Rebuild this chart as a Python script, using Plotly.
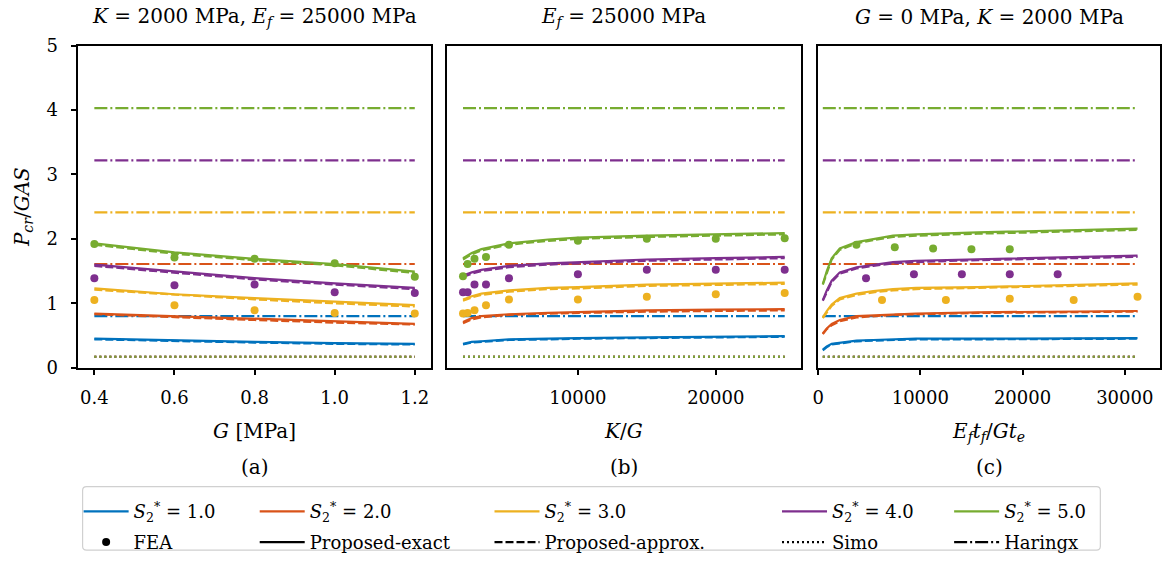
import plotly.graph_objects as go

W, H = 1167, 563

# ---------------- data ----------------
S_labels = ["1.0", "2.0", "3.0", "4.0", "5.0"]
colors = ["#0072BD", "#D95319", "#EDB120", "#7E2F8E", "#77AC30"]

simo = [0.17, 0.17, 0.17, 0.17, 0.17]
haringx = [0.80, 1.61, 2.41, 3.22, 4.03]

# panel (a): G [MPa]
G_a = [0.4, 0.6, 0.8, 1.0, 1.2]
exact_a = [
    [0.45, 0.42, 0.40, 0.38, 0.37],
    [0.84, 0.80, 0.75, 0.71, 0.68],
    [1.23, 1.14, 1.08, 1.02, 0.97],
    [1.60, 1.49, 1.39, 1.31, 1.24],
    [1.93, 1.79, 1.69, 1.61, 1.49],
]
approx_a = [
    [0.44, 0.41, 0.39, 0.37, 0.36],
    [0.83, 0.78, 0.74, 0.70, 0.67],
    [1.21, 1.13, 1.06, 1.00, 0.95],
    [1.58, 1.47, 1.37, 1.29, 1.22],
    [1.91, 1.77, 1.67, 1.59, 1.47],
]
fea_a = [
    None,
    None,
    [1.05, 0.97, 0.89, 0.85, 0.84],
    [1.39, 1.28, 1.29, 1.17, 1.16],
    [1.92, 1.71, 1.69, 1.62, 1.41],
]

# panel (b): K/G
KG_line = [1667, 2300, 3000, 4000, 5000, 7850, 10000, 15000, 20000, 25000]
exact_b = [
    [0.37, 0.40, 0.41, 0.43, 0.44, 0.45, 0.46, 0.47, 0.48, 0.49],
    [0.71, 0.77, 0.80, 0.82, 0.83, 0.85, 0.86, 0.89, 0.90, 0.91],
    [1.06, 1.11, 1.15, 1.18, 1.20, 1.24, 1.25, 1.29, 1.30, 1.32],
    [1.43, 1.48, 1.52, 1.55, 1.58, 1.62, 1.64, 1.68, 1.70, 1.72],
    [1.70, 1.78, 1.84, 1.89, 1.93, 1.99, 2.02, 2.05, 2.07, 2.09],
]
approx_b = [
    [0.36, 0.39, 0.40, 0.42, 0.43, 0.44, 0.45, 0.46, 0.47, 0.48],
    [0.69, 0.75, 0.78, 0.80, 0.82, 0.84, 0.85, 0.87, 0.88, 0.89],
    [1.04, 1.09, 1.13, 1.16, 1.18, 1.22, 1.23, 1.27, 1.28, 1.30],
    [1.41, 1.46, 1.50, 1.53, 1.56, 1.60, 1.62, 1.66, 1.68, 1.70],
    [1.68, 1.76, 1.82, 1.87, 1.91, 1.97, 2.00, 2.03, 2.05, 2.07],
]
KG_fea = [1667, 2000, 2500, 3333, 5000, 10000, 15000, 20000, 25000]
fea_b = [
    None,
    None,
    [0.84, 0.85, 0.89, 0.97, 1.06, 1.06, 1.10, 1.14, 1.16],
    [1.17, 1.17, 1.29, 1.29, 1.39, 1.45, 1.52, 1.52, 1.52],
    [1.42, 1.61, 1.69, 1.72, 1.91, 1.97, 2.00, 2.00, 2.01],
]

# panel (c): Ef tf / G te
EF_line = [460, 850, 1330, 2120, 3760, 5390, 7330, 9590, 15600, 31250]
exact_c = [
    [0.28, 0.33, 0.37, 0.39, 0.42, 0.43, 0.44, 0.45, 0.45, 0.46],
    [0.53, 0.61, 0.68, 0.74, 0.80, 0.81, 0.83, 0.84, 0.86, 0.88],
    [0.78, 0.88, 0.98, 1.08, 1.15, 1.19, 1.22, 1.24, 1.25, 1.31],
    [1.05, 1.20, 1.35, 1.48, 1.56, 1.60, 1.64, 1.66, 1.68, 1.74],
    [1.30, 1.50, 1.70, 1.85, 1.95, 2.00, 2.05, 2.07, 2.10, 2.16],
]
approx_c = [
    [0.27, 0.32, 0.36, 0.38, 0.41, 0.42, 0.43, 0.44, 0.44, 0.45],
    [0.52, 0.60, 0.66, 0.72, 0.78, 0.80, 0.82, 0.83, 0.85, 0.87],
    [0.77, 0.86, 0.96, 1.06, 1.13, 1.17, 1.20, 1.22, 1.24, 1.29],
    [1.04, 1.18, 1.33, 1.46, 1.54, 1.58, 1.62, 1.64, 1.67, 1.72],
    [1.29, 1.48, 1.68, 1.83, 1.93, 1.98, 2.03, 2.05, 2.08, 2.14],
]
EF_fea = [
    None,
    None,
    [6250, 12500, 18750, 25000, 31250],
    [4687.5, 9375, 14062.5, 18750, 23437.5],
    [3750, 7500, 11250, 15000, 18750],
]
fea_c = [
    None,
    None,
    [1.05, 1.05, 1.07, 1.05, 1.10],
    [1.39, 1.45, 1.45, 1.45, 1.45],
    [1.91, 1.87, 1.85, 1.84, 1.84],
]

# ---------------- figure ----------------
FONT = "DejaVu Serif"
FS = 18
FT = 20
fig = go.Figure()

LW = 2.2
DASH = "8px,3px"
DOT = "2px,3px"
DASHDOT = "13px,3px,2px,3px"


def add_panel(xa, ya, x_line, exact, approx, x_fea, fea, per_series_x):
    for i in range(5):
        c = colors[i]
        fig.add_trace(go.Scatter(x=x_line, y=exact[i], mode="lines",
                                 line=dict(color=c, width=LW), showlegend=False,
                                 xaxis=xa, yaxis=ya))
        fig.add_trace(go.Scatter(x=x_line, y=approx[i], mode="lines",
                                 line=dict(color=c, width=LW, dash=DASH), showlegend=False,
                                 xaxis=xa, yaxis=ya))
        if fea[i] is not None:
            xf = x_fea[i] if per_series_x else x_fea
            fig.add_trace(go.Scatter(x=xf, y=fea[i], mode="markers",
                                     marker=dict(color=c, size=8), showlegend=False,
                                     xaxis=xa, yaxis=ya))
        fig.add_trace(go.Scatter(x=[x_line[0], x_line[-1]], y=[simo[i], simo[i]], mode="lines",
                                 line=dict(color=c, width=LW, dash=DOT), showlegend=False,
                                 xaxis=xa, yaxis=ya))
        fig.add_trace(go.Scatter(x=[x_line[0], x_line[-1]], y=[haringx[i], haringx[i]], mode="lines",
                                 line=dict(color=c, width=LW, dash=DASHDOT), showlegend=False,
                                 xaxis=xa, yaxis=ya))


add_panel("x", "y", G_a, exact_a, approx_a, G_a, fea_a, False)
add_panel("x2", "y2", KG_line, exact_b, approx_b, KG_fea, fea_b, False)
add_panel("x3", "y3", EF_line, exact_c, approx_c, EF_fea, fea_c, True)

# ---------------- legends ----------------
ITEMW = 45
col_text_x = [128, 305, 541, 830, 1003]
row_y = [520, 552]
style_entries = [
    ("FEA", dict(mode="markers", marker=dict(color="black", size=8))),
    ("Proposed-exact", dict(mode="lines", line=dict(color="black", width=LW))),
    ("Proposed-approx.", dict(mode="lines", line=dict(color="black", width=LW, dash=DASH))),
    ("Simo", dict(mode="lines", line=dict(color="black", width=LW, dash=DOT))),
    ("Haringx", dict(mode="lines", line=dict(color="black", width=LW, dash=DASHDOT))),
]
legend_layout = {}
k = 0
for row in range(2):
    for col in range(5):
        k += 1
        key = "legend" if k == 1 else f"legend{k}"
        if row == 0:
            name = f"<i>S</i><sub>2</sub><sup>*</sup> = {S_labels[col]}"
            kw = dict(mode="lines", line=dict(color=colors[col], width=LW))
        else:
            name, kw = style_entries[col]
        fig.add_trace(go.Scatter(x=[None], y=[None], name=name, legend=key,
                                 showlegend=True, **kw))
        legend_layout[key] = dict(
            x=(col_text_x[col] - 10 - ITEMW) / W, y=1 - row_y[row] / H,
            xanchor="left", yanchor="middle", bgcolor="rgba(0,0,0,0)",
            borderwidth=0, itemwidth=ITEMW,
            font=dict(family=FONT, size=FS, color="black"),
        )
fig.update_layout(**legend_layout)

# legend frame
bx0, bx1, by0, by1, r = 77, 1100, 494, 560, 4
def px(x): return x / W
def py(y): return 1 - y / H
path = (f"M{px(bx0 + r)},{py(by0)} L{px(bx1 - r)},{py(by0)} Q{px(bx1)},{py(by0)} {px(bx1)},{py(by0 + r)} "
        f"L{px(bx1)},{py(by1 - r)} Q{px(bx1)},{py(by1)} {px(bx1 - r)},{py(by1)} "
        f"L{px(bx0 + r)},{py(by1)} Q{px(bx0)},{py(by1)} {px(bx0)},{py(by1 - r)} "
        f"L{px(bx0)},{py(by0 + r)} Q{px(bx0)},{py(by0)} {px(bx0 + r)},{py(by0)} Z")
fig.add_shape(type="path", path=path, xref="paper", yref="paper",
              line=dict(color="#d0d0d0", width=1.2), fillcolor="rgba(255,255,255,0.8)",
              layer="below")

# ---------------- axes ----------------
ydom = [1 - 370.5 / H, 1 - 36 / H]
xdoms = [[72.7 / W, 427 / W], [443.2 / W, 798.9 / W], [816.3 / W, 1160 / W]]
axis_common = dict(showline=True, linecolor="black", linewidth=1.5, mirror=True,
                   showgrid=False, zeroline=False, ticks="outside", ticklen=6,
                   tickwidth=1.5, tickcolor="black",
                   tickfont=dict(family=FONT, size=FS, color="black"))
title_font = dict(family=FONT, size=FT, color="black")

fig.update_layout(
    width=W, height=H, margin=dict(l=0, r=0, t=0, b=0),
    paper_bgcolor="white", plot_bgcolor="white",
    font=dict(family=FONT, size=FS, color="black"),
    xaxis=dict(domain=xdoms[0], range=[0.36, 1.24], tickvals=[0.4, 0.6, 0.8, 1.0, 1.2],
               tickformat=".1f", anchor="y", ticklabelstandoff=7,
               title=dict(text="<i>G</i> [MPa]", standoff=17, font=title_font), **axis_common),
    xaxis2=dict(domain=xdoms[1], range=[500, 26167], tickvals=[10000, 20000],
                tickformat="d", anchor="y2", ticklabelstandoff=7,
                title=dict(text="<i>K</i>/<i>G</i>", standoff=17, font=title_font), **axis_common),
    xaxis3=dict(domain=xdoms[2], range=[0, 33450], tickvals=[0, 10000, 20000, 30000],
                tickformat="d", anchor="y3", ticklabelstandoff=7,
                title=dict(text="<i>E<sub>f</sub>t<sub>f</sub></i>/<i>Gt<sub>e</sub></i>", standoff=17,
                           font=title_font),
                **axis_common),
    yaxis=dict(domain=ydom, range=[0, 5], tickvals=[0, 1, 2, 3, 4, 5], anchor="x",
               ticklabelstandoff=9,
               title=dict(text="<i>P<sub>cr</sub></i>/<i>GAS</i>", standoff=12, font=title_font),
               **axis_common),
    yaxis2=dict(domain=ydom, range=[0, 5], anchor="x2", showline=True, linecolor="black",
                linewidth=1.5, mirror=True, showgrid=False, zeroline=False,
                showticklabels=False, ticks=""),
    yaxis3=dict(domain=ydom, range=[0, 5], anchor="x3", showline=True, linecolor="black",
                linewidth=1.5, mirror=True, showgrid=False, zeroline=False,
                showticklabels=False, ticks=""),
)

# panel titles and labels
titles = ["<i>K</i> = 2000 MPa, <i>E<sub>f</sub></i> = 25000 MPa",
          "<i>E<sub>f</sub></i> = 25000 MPa",
          "<i>G</i> = 0 MPa, <i>K</i> = 2000 MPa"]
labels = ["(a)", "(b)", "(c)"]
for i in range(3):
    xc = (xdoms[i][0] + xdoms[i][1]) / 2
    fig.add_annotation(text=titles[i], x=xc, y=1 - 6 / H, xref="paper", yref="paper",
                       showarrow=False, xanchor="center", yanchor="middle",
                       font=title_font)
    fig.add_annotation(text=labels[i], x=xc, y=1 - 474 / H, xref="paper", yref="paper",
                       showarrow=False, xanchor="center", yanchor="middle",
                       font=title_font)

fig.write_html("out.html")
